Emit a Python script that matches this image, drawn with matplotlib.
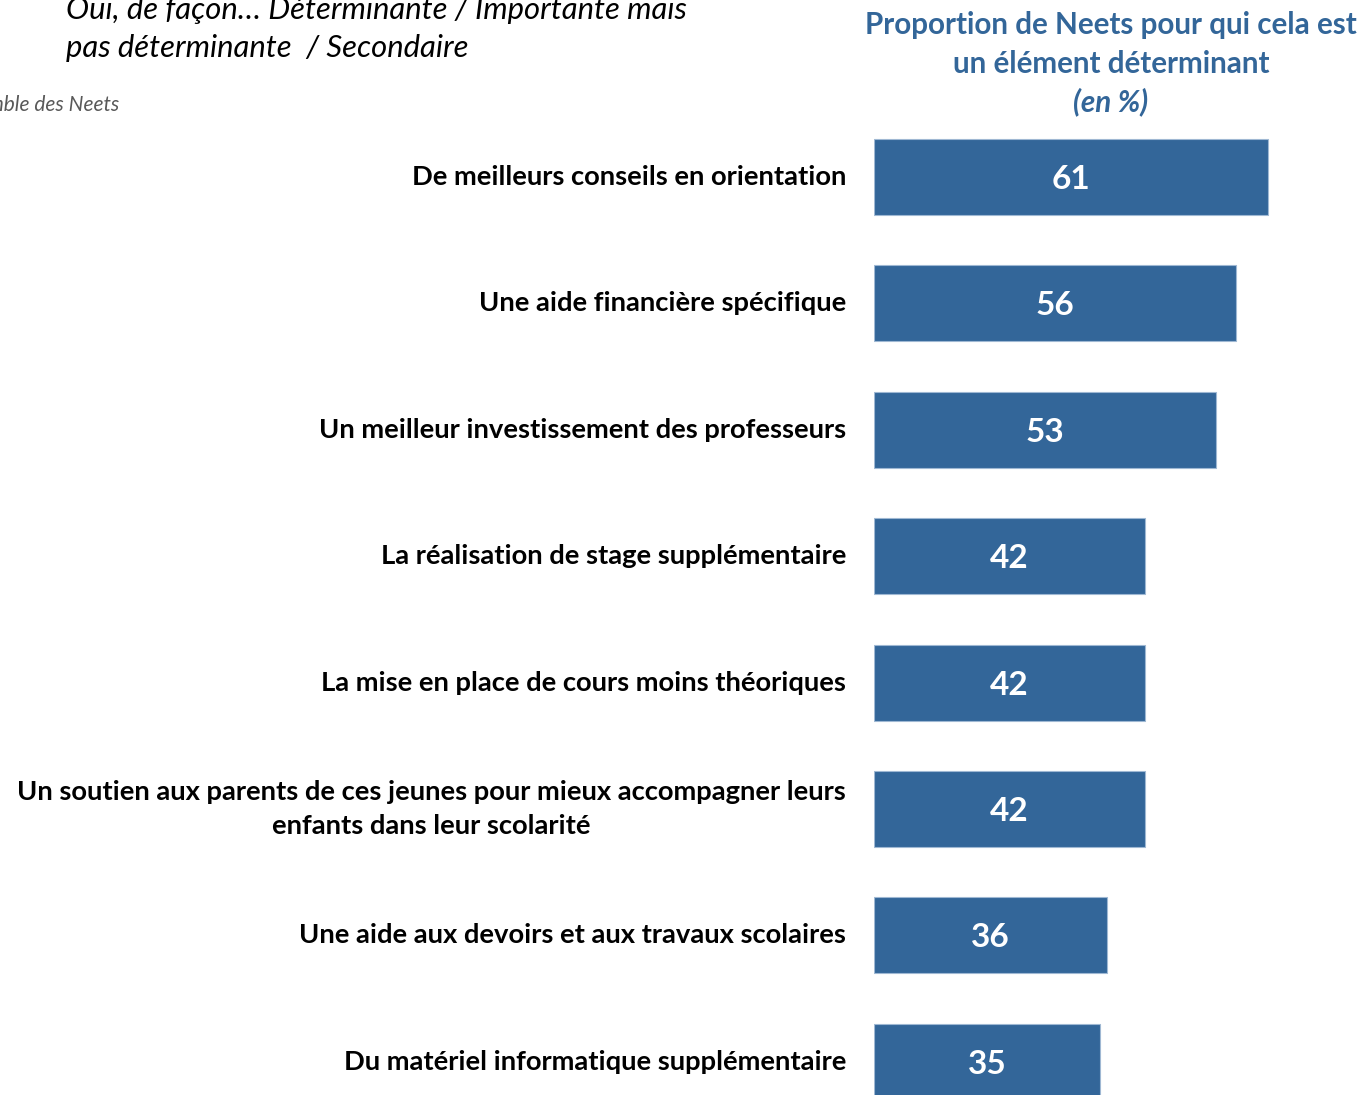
"""Horizontal bar chart: share of Neets for whom each measure is decisive."""

from matplotlib import pyplot as plt

plt.rcParams['font.family'] = ['Lato', 'DejaVu Sans']

measures = [
    "De meilleurs conseils en orientation",
    "Une aide financière spécifique",
    "Un meilleur investissement des professeurs",
    "La réalisation de stage supplémentaire",
    "La mise en place de cours moins théoriques",
    "Un soutien aux parents de ces jeunes pour mieux accompagner leurs\nenfants dans leur scolarité",
    "Une aide aux devoirs et aux travaux scolaires",
    "Du matériel informatique supplémentaire",
]
shares = [61, 56, 53, 42, 42, 42, 36, 35]

title_lines = ["Proportion de Neets pour qui cela est", "un élément déterminant"]
question = "Oui, de façon… Déterminante / Importante mais\npas déterminante  / Secondaire"
base = "Base : Ensemble des Neets"

BLUE = "#336699"
W, H = 1364, 1095

fig = plt.figure(figsize=(W / 100, H / 100), dpi=100)
ax = fig.add_axes([874 / W, 0, 1 - 874 / W, 1])

pos = list(range(len(shares)))
ax.barh(pos, shares, height=0.60, color=BLUE, edgecolor="#9fb8d3", linewidth=0.8)
ax.set_xlim(0, (W - 874) / 6.46)
ax.set_ylim((H - 177) / 126.4, -177 / 126.4)
ax.axis("off")

for i, (label, v) in enumerate(zip(measures, shares)):
    ax.text(v / 2, i + 0.02, str(v), ha="center", va="center", color="white",
            fontsize=24, fontweight="bold")
    ax.annotate(label, xy=(0, i), xycoords=("axes fraction", "data"),
                xytext=(-28, 0), textcoords="offset pixels",
                ha="right", va="center", fontsize=19.7, fontweight="bold",
                color="black", multialignment="center", linespacing=1.45,
                annotation_clip=False)

# chart heading, one line at a time
for y, line in zip([25, 64], title_lines):
    fig.text(1111 / W, 1 - y / H, line, ha="center", va="center",
             color=BLUE, fontsize=21.3, fontweight="bold")
fig.text(1111 / W, 1 - 102 / H, "(en %)", ha="center", va="center",
         color=BLUE, fontsize=21.3, fontweight="bold", style="italic")

fig.text(66 / W, 1 - 29 / H, question, ha="left", va="center", fontsize=22.3,
         style="italic", color="black", linespacing=1.4)
fig.text(119 / W, 1 - 105 / H, base, ha="right", va="center", fontsize=15,
         style="italic", color="#595959")

fig.savefig("out.png", dpi=100)
